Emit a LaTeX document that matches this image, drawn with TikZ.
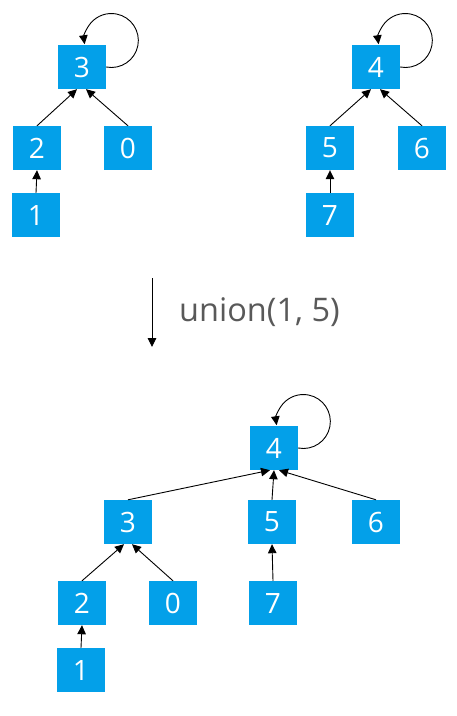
\documentclass[tikz,border=0pt]{standalone}
\usepackage{fontspec}
\setmainfont{Open Sans}
\usetikzlibrary{arrows.meta}
\definecolor{boxblue}{RGB}{3,160,233}
\definecolor{labelgray}{RGB}{89,89,89}
\tikzset{
  uf/.style={fill=boxblue, text=white, minimum width=48pt, minimum height=44pt, inner sep=0pt, font=\fontsize{28}{32}\selectfont},
  link/.style={line width=0.9pt, -{Triangle[length=9pt,width=8.5pt]}},
}
\begin{document}
\begin{tikzpicture}[x=1pt,y=1pt]
\useasboundingbox (0,0) rectangle (456,-716);
% top-left tree
\node[uf] (a3) at (82,-67) {3};
\node[uf] (a2) at (37,-148) {2};
\node[uf] (a0) at (128,-148) {0};
\node[uf] (a1) at (36,-215) {1};
\draw[link] (a3.east) arc[start angle=-101, end angle=188, radius=27];
\draw[link] (a2.north) -- ([xshift=-5pt]a3.south);
\draw[link] (a0.north) -- ([xshift=4pt]a3.south);
\draw[link] (a1.north) -- (a2.south);
% top-right tree
\node[uf] (b4) at (376,-67) {4};
\node[uf] (b5) at (330,-148) {5};
\node[uf] (b6) at (422,-148) {6};
\node[uf] (b7) at (330,-215) {7};
\draw[link] (b4.east) arc[start angle=-101, end angle=188, radius=27];
\draw[link] (b5.north) -- ([xshift=-5pt]b4.south);
\draw[link] (b6.north) -- ([xshift=4pt]b4.south);
\draw[link] (b7.north) -- (b5.south);
% operation
\coordinate (opA) at (152,-278);
\coordinate (opB) at (152,-347);
\draw[link] (opA) -- (opB);
\node[anchor=west, text=labelgray, font=\fontsize{32.5}{38}\selectfont, inner sep=0pt] (op) at (179,-312) {union(1, 5)};
% result tree
\node[uf] (c4) at (274,-448) {4};
\node[uf] (c3) at (128,-522) {3};
\node[uf] (c5) at (272,-522) {5};
\node[uf] (c6) at (376,-522) {6};
\node[uf] (c2) at (82,-603) {2};
\node[uf] (c0) at (173,-603) {0};
\node[uf] (c7) at (273,-603) {7};
\node[uf] (c1) at (81,-670) {1};
\draw[link] (c4.east) arc[start angle=-101, end angle=188, radius=27];
\draw[link] (c3.north) -- ([xshift=-4pt]c4.south);
\draw[link] (c5.north) -- (c4.south);
\draw[link] (c6.north) -- ([xshift=5pt]c4.south);
\draw[link] (c2.north) -- ([xshift=-4pt]c3.south);
\draw[link] (c0.north) -- ([xshift=4pt]c3.south);
\draw[link] (c7.north) -- (c5.south);
\draw[link] (c1.north) -- (c2.south);
\end{tikzpicture}
\end{document}
